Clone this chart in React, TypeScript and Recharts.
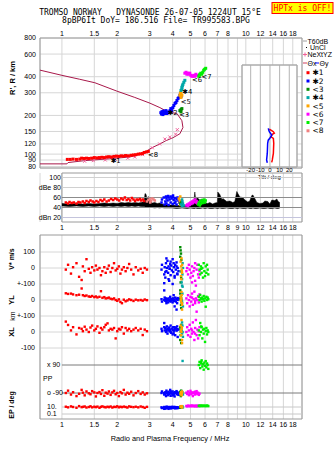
import React from 'react';
import {
  ComposedChart, Scatter, Line, Area, XAxis, YAxis, CartesianGrid, ReferenceArea, ReferenceLine,
} from 'recharts';

// ---------------- ticks ----------------
const FREQ_TICKS = [1, 1.5, 2, 3, 4, 5, 6, 7, 8, 9, 10, 12, 14, 16, 18];
const HEIGHT_TICKS = [800, 600, 400, 300, 200, 150, 120, 100, 90, 80];
const DB_TICKS = [100, 80, 60, 40, 20];
const DB_LABELS = ['100', 'dBe 80', '60', '40', 'dBn 20'];
const TILT_TICKS = [-20, -10, 0, 10, 20];
const TILT_H_TICKS = [400, 300, 200, 150, 120, 100, 90];

const COLORS = {
  o1: '#ff0000', x2: '#0000ff', o3: '#008c00', x4: '#00a8a8',
  o5: '#ffa500', o6: '#ff00ff', o7: '#00ee00', o8: '#f08080',
};
const LEGEND_NAMES = ['\u27311', '\u27312', '<3', '\u27314', '<5', '<6', '<7', '<8'];
const LEGEND_COLORS = [COLORS.o1, COLORS.x2, COLORS.o3, COLORS.x4, COLORS.o5, COLORS.o6, COLORS.o7, COLORS.o8];

// ---------------- panel 1 : virtual / real height ----------------
const NH_F = [0.76, 1.0, 1.25, 1.51, 1.99, 2.49, 3.01, 3.41, 3.77, 4.22, 4.49, 4.55, 4.38, 4.01, 3.67, 3.41, 3.08, 2.75, 2.34, 1.82, 1.33, 1.08, 1.065, 0.76];
const NH_H = [450, 410, 382, 359, 309, 276, 249, 230, 213, 207, 182, 161, 144, 134, 127, 120, 112, 101, 95, 92, 89, 86, 84, 84];

const NE_F = [1.33, 1.48, 1.72, 1.95, 2.28, 2.49, 2.75, 3.1, 3.4, 3.63, 3.86, 4.15, 4.24];
const NE_H = [88, 89, 90, 91, 93, 95, 99, 112, 120, 131, 136, 143, 155];

const H1_F = [1.07, 1.11, 1.15, 1.2, 1.25, 1.28, 1.32, 1.36, 1.4, 1.45, 1.5, 1.55, 1.6, 1.65, 1.7, 1.75, 1.8, 1.86, 1.92, 1.98, 2.04, 2.1, 2.16, 2.22, 2.3, 2.38, 2.45, 2.52, 2.6, 2.67, 2.74, 2.8, 2.88, 2.95];
const H1_H = [91, 91, 91.5, 91, 91.5, 93, 92.5, 93, 92.5, 93, 94, 93.5, 94, 94.5, 94, 95, 95.5, 95, 96, 96.5, 96, 97, 96.5, 97.5, 97, 98, 98.5, 99, 100, 100.5, 101, 103, 104, 105];
const H2_F = [3.45, 3.5, 3.54, 3.59, 3.63, 3.68, 3.72, 3.77, 3.82, 3.87, 3.91, 3.96, 4.01, 4.06, 4.12, 4.17, 4.22, 4.28, 4.33, 4.38, 4.44, 3.48, 3.56, 3.66];
const H2_H = [210, 214, 203, 210, 207, 218, 207, 213, 210, 218, 226, 218, 230, 239, 248, 252, 261, 271, 276, 287, 281, 205, 216, 212];
const H3_F = [4.38, 4.44, 4.49, 4.44];
const H3_H = [218, 222, 226, 213];
const H4_F = [4.44, 4.49, 4.55, 4.6, 4.66, 4.49, 4.52];
const H4_H = [313, 331, 349, 362, 375, 320, 340];
const H5_F = [4.38, 4.44, 4.49, 4.44, 4.41];
const H5_H = [287, 296, 287, 276, 300];
const H6_F = [4.66, 4.73, 4.78, 4.84, 4.9, 4.96, 5.02, 5.15, 5.21, 5.28, 5.35, 5.42, 5.08];
const H6_H = [426, 433, 418, 426, 418, 426, 410, 403, 410, 403, 418, 410, 404];
const H7_F = [5.55, 5.62, 5.69, 5.76, 5.83, 5.9, 5.97, 6.05, 5.6];
const H7_H = [403, 418, 426, 418, 433, 449, 457, 465, 410];

const TRACE_LABEL_F = [1.96, 4.0, 4.62, 4.8, 4.72, 5.43, 6.12, 3.13];
const TRACE_LABEL_H = [88.6, 212, 203, 308, 256, 382, 398, 100];
const TRACE_LABEL_T = ['\u27311', '\u27312', '<3', '\u27314', '<5', '<6', '<7', '<8'];

// tilt inset
const TX_H = [155, 151, 148, 144, 141, 135, 131, 120, 100, 89, 85];
const TX_T = [-0.7, 1.8, 3.5, 4.5, 2.4, 1.0, 3.5, 3.9, 3.5, 2.4, 1.8];
const TY_H = [157, 148, 139, 132, 127, 120, 100, 89, 84.5];
const TY_T = [-1.8, -0.7, 1.8, 0, -1.8, -2.4, -2.8, -3.5, -2.8];

// ---------------- panel 2 : amplitude ----------------
const NOISE_F = [1.0, 1.1, 1.2, 1.3, 1.4, 1.5, 1.6, 1.7, 1.8, 1.9, 2.0, 2.1, 2.2, 2.3, 2.4, 2.5, 2.6, 2.7, 2.8, 2.83, 2.87, 2.9, 2.95, 3.0, 3.1, 3.2, 3.3, 3.4, 3.5, 3.6, 3.8, 4.0, 4.2, 4.5, 4.8, 5.0, 5.2, 5.28, 5.35, 5.42, 5.62, 5.84, 5.99, 6.2, 6.37, 6.6, 6.79, 7.0, 7.04, 7.22, 7.41, 7.5, 7.88, 8.19, 8.5, 8.71, 8.93, 9.05, 9.28, 9.63, 9.88, 10.25, 10.5, 10.78, 10.92, 11.19, 11.48, 11.92, 12.37, 12.69, 13.17, 13.5, 13.85, 14.38, 14.74, 15.0, 15.3];
const NOISE_HI = [48, 47, 48, 47, 48, 47, 48, 49, 48, 49, 48, 50, 49, 50, 49, 50, 49, 50, 52, 68, 66, 55, 62, 52, 49, 50, 48, 49, 47, 46, 45, 45, 44, 44, 45, 46, 46, 71, 52, 60, 55, 57, 50, 48, 50, 47, 49, 50, 71, 66, 56, 58, 52, 53, 50, 52, 72, 68, 61, 60, 55, 51, 53, 64, 65, 58, 50, 48, 49, 53, 52, 47, 55, 54, 57, 52, 50];
const NOISE_LO = [43, 42, 43, 42, 43, 42, 43, 42, 43, 42, 43, 42, 43, 42, 43, 42, 43, 42, 42, 41, 41, 41, 40, 40, 40, 39, 40, 39, 40, 39, 39, 39, 38, 39, 38, 39, 38, 38, 39, 38, 38, 39, 38, 39, 38, 38, 39, 38, 38, 39, 38, 38, 39, 38, 38, 39, 38, 38, 39, 38, 38, 39, 38, 38, 39, 38, 38, 39, 38, 38, 39, 38, 38, 39, 38, 38, 39];

const A1_F = [1.05, 1.08, 1.1, 1.13, 1.16, 1.2, 1.23, 1.26, 1.3, 1.33, 1.36, 1.4, 1.43, 1.47, 1.5, 1.54, 1.58, 1.62, 1.66, 1.7, 1.75, 1.8, 1.85, 1.9, 1.95, 2.0, 2.05, 2.1, 2.15, 2.2, 2.25, 2.3, 2.35, 2.4, 2.45, 2.5, 2.55, 2.6, 2.65, 2.7, 2.75, 2.8];
const A1_DB = [50, 48, 51, 49, 50, 48, 51, 50, 52, 49, 53, 51, 54, 52, 50, 53, 51, 55, 53, 56, 52, 54, 57, 55, 58, 56, 54, 58, 56, 60, 55, 57, 54, 59, 56, 53, 56, 55, 57, 54, 56, 53];
const A8_F = [2.9, 2.95, 3.0, 3.05, 3.1, 3.15, 3.2, 3.02];
const A8_DB = [52, 55, 57, 53, 58, 56, 54, 50];
const A2_F = [3.48, 3.5, 3.65, 3.7, 3.75, 3.8, 3.85, 3.9, 3.95, 4.0, 4.05, 4.1, 4.15, 4.2, 4.25, 4.3, 4.35, 3.62, 3.7, 3.8, 3.9, 4.0, 4.1, 4.2, 3.58, 3.68, 3.78, 4.02];
const A2_DB = [50, 56, 52, 58, 54, 60, 56, 62, 58, 61, 55, 59, 52, 57, 60, 54, 50, 46, 48, 45, 50, 47, 49, 46, 60, 62, 63, 64];
const A3_F = [4.4, 4.47, 4.5];
const A3_DB = [48, 51, 46];
const A4_F = [4.45, 4.5, 4.55, 4.52, 4.6, 4.5];
const A4_DB = [46, 43, 48, 52, 44, 56];
const A5_F = [4.32, 4.36, 4.4, 4.45, 4.48, 4.42, 4.38];
const A5_DB = [58, 55, 62, 52, 48, 45, 50];
const A6_F = [4.75, 4.8, 4.85, 4.9, 4.95, 5.0, 5.05, 5.1, 5.15, 5.2, 5.25, 5.3, 5.35, 5.4, 5.45, 5.5];
const A6_DB = [44, 46, 43, 48, 45, 50, 47, 52, 49, 54, 51, 56, 50, 53, 48, 51];
const A7_F = [5.5, 5.55, 5.6, 5.65, 5.7, 5.75, 5.8, 5.85, 5.9, 5.95, 6.0, 6.05, 5.62];
const A7_DB = [46, 50, 48, 53, 47, 51, 55, 49, 52, 56, 50, 54, 44];

// ---------------- panel 3 : V*, YL, XL, PP, EP ----------------
const P1_F = [1.05, 1.08, 1.12, 1.15, 1.2, 1.24, 1.28, 1.3, 1.33, 1.36, 1.4, 1.43, 1.46, 1.5, 1.53, 1.56, 1.6, 1.63, 1.66, 1.7, 1.73, 1.77, 1.8, 1.84, 1.88, 1.92, 1.96, 2.0, 2.04, 2.08, 2.12, 2.17, 2.22, 2.27, 2.32, 2.38, 2.45, 2.52, 2.6, 2.68, 2.75, 2.82, 2.9];
const P1_V = [-10, 20, -35, 5, 30, -55, -75, 10, -20, 55, -5, -30, 5, -15, 15, -10, 0, -45, -20, 5, -30, -5, 15, -25, 0, 30, -15, -5, 10, -35, -10, 5, -20, 0, 25, -10, -40, 5, -15, -5, -30, 0, -10];
const P1_YL = [42, 38, 40, 35, 30, 33, 72, 30, 25, 28, 22, 20, 25, 18, 22, 16, 20, 55, 14, 18, 10, 12, 15, 8, 5, 10, 0, -5, 4, -12, -20, 2, -8, -3, 4, 0, -6, 2, -2, 0, -4, 3, -1];
const P1_XL = [65, 44, 10, 30, -15, 25, 20, 5, 33, 15, 0, 28, 40, 10, 20, 35, -5, 25, 15, 30, 45, 54, 10, 20, 15, 25, -40, 5, 20, 15, 30, -10, 25, 10, 20, 5, 15, 25, 10, 20, -19, 15, 5];
const P1_PP = [-90, -75, -100, -85, -110, -95, -70, -88, -105, -80, -92, -98, -78, -86, -112, -90, -84, -96, -72, -108, -88, -94, -80, -102, -86, -76, -98, -90, -110, -84, -92, -70, -100, -88, -95, -82, -105, -90, -78, -96, -86, -100, -92];
const P1_EP = [12, 8, 15, 10, 6, 18, 9, 11, 14, 7, 10, 16, 8, 12, 9, 13, 6, 11, 15, 10, 8, 12, 9, 14, 7, 11, 10, 16, 8, 12, 9, 13, 10, 7, 15, 11, 9, 12, 8, 14, 10, 6, 11];

const P2_F = [3.48, 3.5, 3.6, 3.62, 3.65, 3.68, 3.7, 3.72, 3.75, 3.78, 3.8, 3.83, 3.86, 3.88, 3.9, 3.93, 3.96, 4.0, 4.03, 4.06, 4.1, 4.13, 4.16, 4.2, 4.23, 4.26, 4.3, 3.6, 3.7, 3.8, 3.9, 4.0, 4.1, 4.2, 3.65, 3.85, 4.05, 4.25];
const P2_V = [-10, 20, -40, 5, -60, 30, -20, 0, 45, -30, 10, -80, -5, 25, -45, 15, -15, 55, -25, 5, -60, 20, -10, 35, -35, 0, -20, -95, 60, -70, 40, -100, -50, 10, -25, -5, 30, -40];
const P2_YL = [5, -10, 0, 15, -5, 10, -20, 0, 5, -15, 10, 0, -5, 20, -10, 5, 0, -15, 10, -5, 0, 15, -10, 5, -20, 0, 10, 60, -8, 3, -3, 8, -40, -60, 2, -2, 30, 12];
const P2_XL = [20, 5, 30, 10, 25, 0, 15, 35, -10, 20, 10, 28, 5, 15, 40, -5, 22, 12, 30, 8, 18, -20, 25, 10, 35, -31, 15, 56, 5, 20, 0, -15, 30, 10, 25, 12, -8, 18];
const P2_PP = [-90, -80, -100, -95, -85, -110, -75, -92, -88, -104, -82, -96, -90, -70, -108, -86, -94, -80, -100, -90, -112, -84, -92, -78, -98, -88, -102, -90, -86, -94, -80, -106, -90, -84, -96, -92, -100, -88];
const P2_EP = [8, 5, 10, 6, 4, 9, 7, 12, 5, 8, 3, 10, 6, 9, 4, 7, 11, 5, 8, 6, 10, 4, 7, 9, 5, 8, 6, 3, 10, 7, 5, 9, 6, 8, 4, 7, 10, 5];

const P3_F = [4.4, 4.42, 4.44, 4.4, 4.46, 4.43, 4.45, 4.42];
const P3_V = [130, 110, 90, 70, 50, -20, -60, -90];
const P3_YL = [40, 10, -30, 60, -10, 20, -50, 0];
const P3_XL = [30, -20, 10, -50, 45, 0, -69, 20];
const P3_PP = [-90, -80, -100, -85, -95, -110, -75, -90];
const P3_EP = [10, 8, 12, 6, 9, 11, 7, 10];

const P4_F = [4.46, 4.5, 4.52, 4.55, 4.48, 4.53, 4.5];
const P4_V = [-20, -70, -40, 0, -90, 30, -110];
const P4_YL = [10, -20, 40, -40, 0, 83, -10];
const P4_XL = [20, -10, 40, -30, 10, 0, 60];
const P4_PP = [-90, -95, -85, -100, -80, 116, -92];
const P4_EP = [12, 9, 14, 8, 11, 10, 13];

const P5_F = [4.42, 4.45, 4.48, 4.5, 4.44, 4.47, 4.5, 4.46, 4.49];
const P5_V = [40, 10, -10, -30, -50, 60, 20, -70, -20];
const P5_YL = [20, -10, 30, -30, 0, 50, -60, 10, -20];
const P5_XL = [40, -20, 20, -50, 10, 75, -69, 0, 30];
const P5_PP = [-95, -85, -100, -80, -90, -105, -88, -92, -84];
const P5_EP = [14, 10, 18, 8, 12, 16, 9, 11, 13];

const P6_F = [4.75, 4.8, 4.85, 4.9, 4.95, 5.0, 5.05, 5.1, 5.15, 5.2, 5.25, 5.3, 5.35, 5.4, 5.45, 5.5, 5.55, 5.6, 5.3, 5.1];
const P6_V = [-20, 0, -40, 20, -10, -60, -30, 10, -50, -20, 0, -80, -110, -10, 20, -40, -60, -20, 30, -90];
const P6_YL = [10, -20, 30, 0, -40, 20, -10, 40, -30, 5, 52, -20, 10, -73, 0, 25, -15, 35, -5, 15];
const P6_XL = [0, 30, -20, 10, 45, -30, 20, -10, 60, 0, -50, 25, 75, -20, 15, -40, 5, 30, -10, 10];
const P6_PP = [-88, -96, -80, -104, -90, -76, -98, -86, -110, -92, -84, -100, -90, -78, -96, -88, -102, -94, -82, -90];
const P6_EP = [20, 15, 25, 18, 22, 16, 24, 19, 21, 17, 23, 20, 18, 26, 15, 22, 19, 21, 17, 24];

const P7_F = [5.55, 5.6, 5.65, 5.7, 5.75, 5.8, 5.85, 5.9, 5.95, 6.0, 6.05, 6.1, 6.15, 6.2, 6.25, 5.72];
const P7_V = [20, -10, -40, 10, -30, 0, -60, 30, -20, -50, 10, -30, 20, -10, -40, -5];
const P7_YL = [20, 0, 31, 10, -10, 15, 5, 25, -5, 10, -42, 20, 0, 15, 5, 8];
const P7_XL = [10, -20, 56, 0, 30, -40, 15, -10, 20, -62, 5, 25, -15, 10, 0, 35];
const P7_PP = [90, 110, 70, 100, 120, 80, 95, 60, 105, 85, 115, 75, 100, 90, 65, 110];
const P7_EP = [20, 25, 18, 22, 20, 24, 19, 21, 23, 20, 18, 22, 25, 20, 19, 21];

// ---------------- helpers ----------------
const W = 335;
const H = 451;
const X_DOMAIN: [number, number] = [0.76, 20.2];

const zip = (f: number[], v: number[], key = 'y') => f.map((x, i) => ({ f: x, [key]: v[i] }));

// composite row axis of panel 3
const rowV = (v: number) => 151 + 0.16 * v;
const rowYL = (v: number) => 119 + 0.16 * v;
const rowXL = (v: number) => 87 + 0.16 * v;
const rowPP = (v: number) => 40 + (v * 14) / 90;
const rowEP = (v: number) => 5 + (Math.log10(v) + 1) * 3.5;
const P3_TICKS = [rowV(100), rowV(0), rowV(-100), rowYL(0), rowYL(-100), rowXL(0), rowXL(-100), rowPP(90), rowPP(-90), rowEP(10), rowEP(0.1)];
const P3_LABELS = ['100', '0', '+-100', '0', '+-100', '0', '-100', 'x 90', 'o -90', '10.', '0.1'];

type P3S = { c: string; f: number[]; v: number[]; yl: number[]; xl: number[]; pp: number[]; ep: number[] };
const P3_SERIES: P3S[] = [
  { c: COLORS.o1, f: P1_F, v: P1_V, yl: P1_YL, xl: P1_XL, pp: P1_PP, ep: P1_EP },
  { c: COLORS.x2, f: P2_F, v: P2_V, yl: P2_YL, xl: P2_XL, pp: P2_PP, ep: P2_EP },
  { c: COLORS.o3, f: P3_F, v: P3_V, yl: P3_YL, xl: P3_XL, pp: P3_PP, ep: P3_EP },
  { c: COLORS.x4, f: P4_F, v: P4_V, yl: P4_YL, xl: P4_XL, pp: P4_PP, ep: P4_EP },
  { c: COLORS.o5, f: P5_F, v: P5_V, yl: P5_YL, xl: P5_XL, pp: P5_PP, ep: P5_EP },
  { c: COLORS.o6, f: P6_F, v: P6_V, yl: P6_YL, xl: P6_XL, pp: P6_PP, ep: P6_EP },
  { c: COLORS.o7, f: P7_F, v: P7_V, yl: P7_YL, xl: P7_XL, pp: P7_PP, ep: P7_EP },
];
const p3Rows = (s: P3S) =>
  s.f.flatMap((f, i) => [
    { f, u: rowV(s.v[i]) },
    { f, u: rowYL(s.yl[i]) },
    { f, u: rowXL(s.xl[i]) },
    { f, u: rowPP(s.pp[i]) },
    { f, u: rowEP(s.ep[i]) },
  ]);

const Sq = (color: string, s: number) => (p: any) =>
  p.cx == null || isNaN(p.cx) ? <g /> : <rect x={p.cx - s / 2} y={p.cy - s / 2} width={s} height={s} fill={color} />;

const XMark = (color: string) => (p: any) =>
  p.cx == null ? <g /> : (
    <path d={`M${p.cx - 1.5},${p.cy - 1.5}L${p.cx + 1.5},${p.cy + 1.5}M${p.cx + 1.5},${p.cy - 1.5}L${p.cx - 1.5},${p.cy + 1.5}`} stroke={color} strokeWidth={1} />
  );

const TextMark = (p: any) => {
  const t = (p.payload && p.payload.t) || p.t;
  return p.cx == null ? <g /> : (
    <text x={p.cx} y={p.cy} dy="0.35em" textAnchor="middle" fontSize={6.8} fill="#000" fontFamily="DejaVu Sans">{t}</text>
  );
};

const fmtNo9 = (v: number) => (v === 9 ? '' : String(v));
const TICK_STYLE = { fontSize: 7, fill: '#000' };
const GRID = '#d6d6d6';
const BORDER = '#9a9a9a';

const Layer: React.FC<{ children: React.ReactNode }> = ({ children }) => (
  <div style={{ position: 'absolute', left: 0, top: 0, width: W, height: H }}>{children}</div>
);

// ---------------- panel 1 ----------------
function HeightPanel() {
  const labels = TRACE_LABEL_F.map((f, i) => ({ f, h: TRACE_LABEL_H[i], t: TRACE_LABEL_T[i] }));
  const hs: [number[], number[], string][] = [
    [H1_F, H1_H, COLORS.o1], [H2_F, H2_H, COLORS.x2], [H3_F, H3_H, COLORS.o3], [H5_F, H5_H, COLORS.o5],
    [H4_F, H4_H, COLORS.x4], [H6_F, H6_H, COLORS.o6], [H7_F, H7_H, COLORS.o7],
  ];
  return (
    <ComposedChart width={W} height={H} margin={{ top: 28, right: 33, bottom: 283, left: 10 }}>
      <CartesianGrid stroke={GRID} />
      <XAxis type="number" dataKey="f" scale="log" domain={X_DOMAIN} allowDataOverflow ticks={FREQ_TICKS} interval={0}
        orientation="top" height={10} tickLine={false} axisLine={false} tickSize={0} tickMargin={2} tick={TICK_STYLE} tickFormatter={fmtNo9} />
      <YAxis type="number" dataKey="h" scale="log" domain={[78, 800]} allowDataOverflow ticks={HEIGHT_TICKS} interval={0}
        width={30} tickLine={false} axisLine={false} tickSize={0} tickMargin={4} tick={TICK_STYLE} />
      <ReferenceArea x1={X_DOMAIN[0]} x2={X_DOMAIN[1]} y1={78} y2={800} fill="none" stroke={BORDER} ifOverflow="visible" />
      <Line data={zip(NH_F, NH_H, 'h')} dataKey="h" stroke="#a8184a" strokeWidth={1} dot={false} isAnimationActive={false} />
      <Scatter data={zip(NE_F, NE_H, 'h')} shape={XMark('#f0609a')} isAnimationActive={false} />
      {hs.map(([f, h, c], i) => (
        <Scatter key={i} data={zip(f, h, 'h')} shape={Sq(c, 3)} isAnimationActive={false} />
      ))}
      <Scatter data={labels} shape={TextMark} isAnimationActive={false} />
    </ComposedChart>
  );
}

function TiltInset() {
  return (
    <ComposedChart width={W} height={H} margin={{ top: 65, right: 38, bottom: 270, left: 242 }}>
      <CartesianGrid fill="#fff" stroke="#b4b4b4" />
      <XAxis type="number" dataKey="t" domain={[-29, 28]} allowDataOverflow ticks={TILT_TICKS} interval={0}
        height={14} tickLine={false} axisLine={false} tickSize={0} tickMargin={1} tick={{ fontSize: 6, fill: '#000' }}
        label={{ value: 'Tilt / deg', position: 'insideBottom', offset: 2, fontSize: 6, fill: '#000' }} />
      <YAxis type="number" dataKey="h" scale="log" domain={[78.3, 492]} allowDataOverflow ticks={TILT_H_TICKS} interval={0}
        width={0} tick={false} axisLine={false} tickLine={false} />
      <ReferenceArea x1={-29} x2={28} y1={78.3} y2={492} fill="none" stroke="#a8a8a8" ifOverflow="visible" />
      <Line data={TX_T.map((t, i) => ({ t, h: TX_H[i] }))} dataKey="h" stroke="#ff0000" strokeWidth={1.5} dot={false} isAnimationActive={false} />
      <Line data={TY_T.map((t, i) => ({ t, h: TY_H[i] }))} dataKey="h" stroke="#0000ff" strokeWidth={1.5} dot={false} isAnimationActive={false} />
    </ComposedChart>
  );
}

// ---------------- panel 2 ----------------
const DbTick = (p: any) => (
  <text x={61} y={p.y} dy="0.35em" textAnchor="end" fontSize={7} fill="#000">{DB_LABELS[p.index]}</text>
);

function DbPanel() {
  const noise = NOISE_F.map((f, i) => ({ f, r: [NOISE_LO[i], NOISE_HI[i]] }));
  const ser: [number[], number[], string][] = [
    [A1_F, A1_DB, COLORS.o1], [A8_F, A8_DB, COLORS.o8], [A2_F, A2_DB, COLORS.x2], [A5_F, A5_DB, COLORS.o5],
    [A3_F, A3_DB, COLORS.o3], [A4_F, A4_DB, COLORS.x4], [A6_F, A6_DB, COLORS.o6], [A7_F, A7_DB, COLORS.o7],
  ];
  const lines: [number, string][] = [[100, '#d0d0d0'], [80, '#d0d0d0'], [60, '#8c8c8c'], [40, '#8c8c8c'], [20, '#c4c4dc']];
  return (
    <ComposedChart width={W} height={H} margin={{ top: 173, right: 33, bottom: 217, left: 10 }}>
      <CartesianGrid stroke={GRID} horizontal={false} />
      <XAxis type="number" dataKey="f" scale="log" domain={X_DOMAIN} allowDataOverflow ticks={FREQ_TICKS} interval={0}
        height={12} tickLine={false} axisLine={false} tickSize={0} tickMargin={3} tick={TICK_STYLE} />
      <YAxis type="number" dataKey="db" domain={[11, 109]} allowDataOverflow ticks={DB_TICKS} interval={0}
        width={30} tickLine={false} axisLine={false} tick={DbTick} />
      {lines.map(([v, c]) => (
        <ReferenceLine key={v} segment={[{ x: 1, y: v }, { x: X_DOMAIN[1], y: v }]} stroke={c} ifOverflow="visible" />
      ))}
      <ReferenceArea x1={1} x2={X_DOMAIN[1]} y1={11} y2={109} fill="none" stroke={BORDER} ifOverflow="visible" />
      <Area data={noise} dataKey="r" type="linear" stroke="#000" strokeWidth={0.5} fill="#000" fillOpacity={1} isAnimationActive={false} />
      {ser.map(([f, d, c], i) => (
        <Scatter key={i} data={zip(f, d, 'db')} shape={Sq(c, 2.5)} isAnimationActive={false} />
      ))}
    </ComposedChart>
  );
}

// ---------------- panel 3 ----------------
const P3Tick = (p: any) => {
  const inside = p.index >= 7;
  return (
    <text x={inside ? 47 : 35} y={p.y} dy="0.35em" textAnchor={inside ? 'start' : 'end'} fontSize={7} fill="#000">
      {P3_LABELS[p.index]}
    </text>
  );
};

function ParamPanel() {
  const hv = P3_TICKS.slice(0, 7);
  return (
    <ComposedChart width={W} height={H} margin={{ top: 235, right: 33, bottom: 20, left: 10 }}>
      <CartesianGrid stroke={GRID} horizontalValues={hv} />
      <XAxis type="number" dataKey="f" scale="log" domain={X_DOMAIN} allowDataOverflow ticks={FREQ_TICKS} interval={0}
        height={12} tickLine={false} axisLine={false} tickSize={0} tickMargin={3} tick={TICK_STYLE} tickFormatter={fmtNo9} />
      <YAxis type="number" dataKey="u" domain={[0, 184]} allowDataOverflow ticks={P3_TICKS} interval={0}
        width={30} tickLine={false} axisLine={false} tick={P3Tick} />
      <ReferenceLine segment={[{ x: 1, y: rowPP(90) }, { x: X_DOMAIN[1], y: rowPP(90) }]} stroke="#7a7a7a" ifOverflow="visible" />
      <ReferenceLine segment={[{ x: 1, y: rowPP(-90) }, { x: X_DOMAIN[1], y: rowPP(-90) }]} stroke="#7a7a7a" ifOverflow="visible" />
      <ReferenceLine segment={[{ x: 1, y: rowEP(10) }, { x: X_DOMAIN[1], y: rowEP(10) }]} stroke="#c8c8c8" ifOverflow="visible" />
      <ReferenceLine segment={[{ x: 1, y: rowEP(0.1) }, { x: X_DOMAIN[1], y: rowEP(0.1) }]} stroke="#c8c8c8" ifOverflow="visible" />
      <ReferenceArea x1={X_DOMAIN[0]} x2={X_DOMAIN[1]} y1={0} y2={184} fill="none" stroke={BORDER} ifOverflow="visible" />
      {P3_SERIES.map((s, i) => (
        <Scatter key={i} data={p3Rows(s)} shape={Sq(s.c, 2.4)} isAnimationActive={false} />
      ))}
    </ComposedChart>
  );
}

// ---------------- static text ----------------
function Overlay() {
  const mono = '"DejaVu Sans Mono", monospace';
  return (
    <svg width={W} height={H} style={{ position: 'absolute', left: 0, top: 0 }}>
      <text x={150} y={14.5} textAnchor="middle" fontFamily={mono} fontSize={8} fill="#000" xmlSpace="preserve">TROMSO NORWAY   DYNASONDE 26-07-05 1224UT 15°E</text>
      <text x={156} y={22.5} textAnchor="middle" fontFamily={mono} fontSize={8} fill="#000" xmlSpace="preserve">8pBP6It DoY= 186.516 File= TR995583.BPG</text>
      <rect x={272} y={2.5} width={61} height={11} fill="#ffff00" stroke="#ff0000" strokeWidth={1} />
      <text x={302.5} y={11} textAnchor="middle" fontFamily={mono} fontSize={8} fill="#ff0000">HPTx is OFF!</text>

      {/* legend */}
      <line x1={303} x2={307} y1={41} y2={41} stroke="#a0a0a0" />
      <text x={307.5} y={43.5} fontSize={7} fill="#000">T60dB</text>
      <rect x={306} y={47} width={1} height={1} fill="#000" />
      <text x={310} y={50} fontSize={7} fill="#000">UnCl</text>
      <path d="M305,52.5V56.5M303,54.5H307" stroke="#f0609a" />
      <text x={307.5} y={57} fontSize={7} fill="#000">NeXtYZ</text>
      <line x1={303} x2={307} y1={63} y2={63} stroke="#d04060" />
      <text x={307.5} y={65.5} fontSize={7} fill="#000">Θx</text>
      <line x1={315} x2={319} y1={63} y2={63} stroke="#0000ff" />
      <text x={319.5} y={65.5} fontSize={7} fill="#000">Θy</text>
      {LEGEND_NAMES.map((n, i) => (
        <g key={n}>
          <rect x={306.5} y={71.2 + i * 8.3} width={3} height={3} fill={LEGEND_COLORS[i]} />
          <text x={312.5} y={75.3 + i * 8.3} fontSize={7.5} fill="#000" fontFamily="DejaVu Sans">{n}</text>
        </g>
      ))}

      {/* axis titles */}
      <text transform="translate(15,78) rotate(-90)" textAnchor="middle" fontSize={7.5} fontWeight="bold" fill="#000">R', R / km</text>
      <text transform="translate(14,259) rotate(-90)" textAnchor="middle" fontSize={7} fontWeight="bold" fill="#000">V* m/s</text>
      <text transform="translate(14,300) rotate(-90)" textAnchor="middle" fontSize={7.5} fontWeight="bold" fill="#000">YL</text>
      <text transform="translate(15,316) rotate(-90)" textAnchor="middle" fontSize={7} fill="#000">km</text>
      <text transform="translate(14,332) rotate(-90)" textAnchor="middle" fontSize={7.5} fontWeight="bold" fill="#000">XL</text>
      <text transform="translate(14,405) rotate(-90)" textAnchor="middle" fontSize={7} fontWeight="bold" fill="#000">EP / deg</text>
      <text x={43} y={380.5} fontSize={7} fill="#000">PP</text>
      <text x={170} y={440.5} textAnchor="middle" fontSize={7.4} fill="#000">Radio and Plasma Frequency / MHz</text>
    </svg>
  );
}

export default function App() {
  return (
    <div style={{ position: 'absolute', left: 0, top: 0, width: W, height: H, background: '#fff', overflow: 'hidden', fontFamily: '"Liberation Sans", Arial, sans-serif' }}>
      <Layer><HeightPanel /></Layer>
      <Layer><TiltInset /></Layer>
      <Layer><DbPanel /></Layer>
      <Layer><ParamPanel /></Layer>
      <Overlay />
    </div>
  );
}
